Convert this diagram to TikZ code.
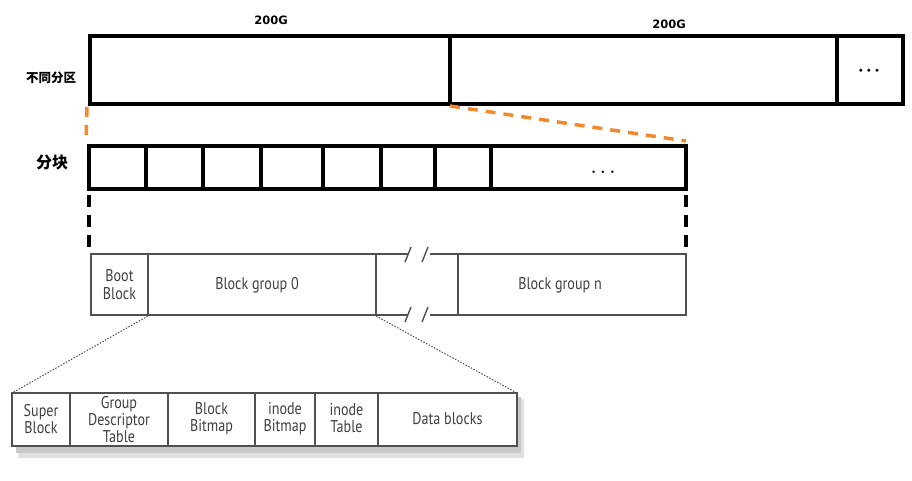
\documentclass[tikz,border=0pt]{standalone}
\usepackage{fontspec}
\setmainfont{DejaVu Sans}
\newfontfamily\cjkfont{Noto Sans CJK SC}
\newfontfamily\narrowfont[FakeStretch=0.83]{PT Sans}
\usetikzlibrary{calc}
\definecolor{orangeline}{HTML}{F4882A}
\definecolor{grayline}{HTML}{505050}
\tikzset{
  heavy/.style={draw=black, line width=4pt},
  thin/.style={draw=grayline, line width=1.5pt},
  lbl/.style={font=\narrowfont\fontsize{17}{17}\selectfont, text=black!75, align=center, inner sep=0pt},
  sizelbl/.style={font=\bfseries\fontsize{11.5}{13}\selectfont, inner sep=0pt},
  orangedash/.style={draw=orangeline, line width=3.5pt, dash pattern=on 10pt off 8pt},
  blackdash/.style={draw=black, line width=3.5pt, dash pattern=on 12pt off 8pt},
  dotline/.style={draw=grayline, line width=1pt, dash pattern=on 1.5pt off 1.5pt}
}
\begin{document}
\begin{tikzpicture}[x=1pt,y=-1pt]
\useasboundingbox (0,0) rectangle (912,480);
% labels
\node[sizelbl] (s1) at (271,20) {200G};
\node[sizelbl] (s2) at (669,24) {200G};
\node[font=\cjkfont\bfseries\fontsize{12.5}{14}\selectfont, inner sep=0pt] (lp) at (51,78) {不同分区};
\node[font=\cjkfont\bfseries\fontsize{16}{18}\selectfont, inner sep=0pt] (lb) at (52,162) {分块};
% top partitions
\coordinate (pA) at (90,36);
\coordinate (pB) at (903,104);
\draw[heavy] (pA) rectangle (pB);
\coordinate (d1t) at (450,36); \coordinate (d1b) at (450,104);
\coordinate (d2t) at (837,36); \coordinate (d2b) at (837,104);
\draw[heavy] (d1t) -- (d1b);
\draw[heavy] (d2t) -- (d2b);
\node[font=\fontsize{7}{7}\selectfont, inner sep=0pt] (pdots) at (869,71) {$\bullet\;\bullet\;\bullet$};
% blocks row
\coordinate (bA) at (89,146);
\coordinate (bB) at (686,189);
\draw[heavy] (bA) rectangle (bB);
\foreach \x in {146,203,261,323,381,435,491} {
  \draw[heavy] (\x,146) -- (\x,189);
}
\node[font=\fontsize{5}{5}\selectfont, inner sep=0pt] (bdots) at (603,172) {$\bullet\;\;\bullet\;\;\bullet$};
% orange dashed connectors
\coordinate (o1a) at (87,107); \coordinate (o1b) at (86,142);
\coordinate (o2a) at (450,106); \coordinate (o2b) at (686,141);
\draw[orangedash] (o1a) -- (o1b);
\draw[orangedash] (o2a) -- (o2b);
% black dashed connectors
\coordinate (k1a) at (89,195); \coordinate (k1b) at (89,247);
\coordinate (k2a) at (686,195); \coordinate (k2b) at (686,247);
\draw[blackdash] (k1a) -- (k1b);
\draw[blackdash] (k2a) -- (k2b);
% block groups strip
\draw[thin] (408,254) -- (91,254) -- (91,315) -- (408,315);
\draw[thin] (430,254) -- (686,254) -- (686,315) -- (430,315);
\draw[thin] (148,254) -- (148,315);
\draw[thin] (376,254) -- (376,315);
\draw[thin] (458,254) -- (458,315);
\foreach \x in {408,425} {
  \draw[grayline, line width=1.4pt] (\x+3,247) -- (\x-3,262);
  \draw[grayline, line width=1.4pt] (\x+3,307) -- (\x-3,322);
}
\node[lbl] (boot) at (119.5,285) {Boot\\[1pt]Block};
\node[lbl] (bg0) at (257,285) {Block group 0};
\node[lbl] (bgn) at (560,285) {Block group n};
\coordinate (g0r) at (148,316);
\coordinate (g0l) at (376,316);
% detail strip with shadow
\fill[black!12] (18,446) rectangle (524,458);
\fill[black!12] (517,399) rectangle (524,458);
\fill[black!22] (16,446) rectangle (521,453);
\fill[black!22] (517,397) rectangle (521,453);
\fill[white] (12,393) rectangle (517,446);
\draw[thin] (12,393) rectangle (517,446);
\foreach \x in {70,168,255,315,378} {
  \draw[thin] (\x,393) -- (\x,446);
}
\coordinate (sl) at (12,393);
\coordinate (sr) at (517,393);
\draw[dotline] (g0r) -- (sl);
\draw[dotline] (g0l) -- (sr);
\node[lbl] (sb) at (41,419) {Super\\Block};
\node[lbl] (gdt) at (119,420) {Group\\Descriptor\\Table};
\node[lbl] (bbm) at (211.5,419) {Block\\Bitmap};
\node[lbl] (ibm) at (285,419) {inode\\Bitmap};
\node[lbl] (itb) at (346.5,418) {inode\\Table};
\node[lbl] (db) at (447.5,419) {Data blocks};
\end{tikzpicture}
\end{document}
